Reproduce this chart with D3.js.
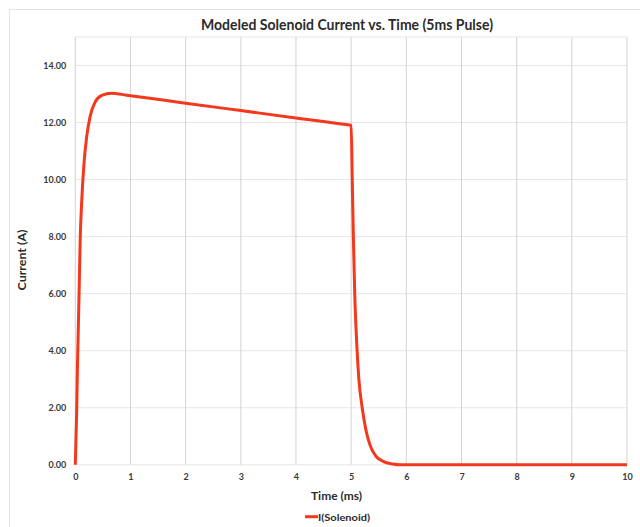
<!DOCTYPE html>
<html>
<head>
<meta charset="utf-8">
<script src="https://cdn.jsdelivr.net/npm/d3@7"></script>
<style>
  html, body { margin: 0; padding: 0; background: #fff; }
  svg { display: block; }
  text { font-family: Lato, "Open Sans", "Liberation Sans", sans-serif; font-weight: bold; }
</style>
</head>
<body>
<svg id="chart" width="640" height="527"></svg>
<script>
// Modeled solenoid current (A) over time (ms) for a 5 ms drive pulse
const timeMs = [0, 0.024, 0.04, 0.067, 0.09, 0.12, 0.157, 0.205, 0.266, 0.356, 0.48, 0.66, 0.93,
                2, 3, 4, 4.9, 5.0, 5.02, 5.04, 5.065, 5.10, 5.14, 5.20, 5.27, 5.35, 5.45, 5.58, 5.75, 5.9,
                6, 7, 8, 9, 10];
const currentA = [0, 1.78, 3.53, 5.87, 7.98, 9.38, 10.55, 11.48, 12.19, 12.71, 12.95, 13.03, 12.96,
                  12.68, 12.42, 12.16, 11.93, 11.9, 10.0, 8.0, 6.0, 4.3, 3.0, 2.0, 1.2, 0.65, 0.3, 0.12, 0.03, 0,
                  0, 0, 0, 0, 0];
const xTicks = [0, 1, 2, 3, 4, 5, 6, 7, 8, 9, 10];
const yTicks = [0, 2, 4, 6, 8, 10, 12, 14];
const seriesName = "I(Solenoid)";

const svg = d3.select("#chart");
const lineColor = "#f4381c";

// chart frame (only the top/left edges fall inside the view)
svg.append("rect")
  .attr("x", 9.5).attr("y", 9.5)
  .attr("width", 700).attr("height", 600)
  .attr("fill", "#fff").attr("stroke", "#e3e3e3").attr("stroke-width", 1);

const x = d3.scaleLinear().domain([0, 10]).range([75.3, 627]);
const y = d3.scaleLinear().domain([0, 15]).range([464.8, 37]);

// horizontal gridlines (including the top edge at 15)
const g = svg.append("g");
g.selectAll("line.hgrid")
  .data(yTicks.concat([15]))
  .join("line")
  .attr("class", "hgrid")
  .attr("x1", x(0)).attr("x2", x(10))
  .attr("y1", d => y(d)).attr("y2", d => y(d))
  .attr("stroke", "#e6e6e6").attr("stroke-width", 1);

// vertical gridlines
g.selectAll("line.vgrid")
  .data(xTicks)
  .join("line")
  .attr("class", "vgrid")
  .attr("x1", d => x(d)).attr("x2", d => x(d))
  .attr("y1", y(15)).attr("y2", y(0))
  .attr("stroke", "#d3d3d3").attr("stroke-width", 1);

// y axis labels
const yAxis = d3.axisLeft(y).tickValues(yTicks).tickFormat(d3.format(".2f")).tickSize(0).tickPadding(9);
svg.append("g")
  .attr("transform", `translate(${x(0)},0)`)
  .call(yAxis)
  .call(s => s.select(".domain").remove())
  .call(s => s.selectAll("text").attr("font-size", 9).attr("fill", "#3a3a3a")
    .style("font-family", "Lato, sans-serif").style("font-weight", "bold"));

// x axis labels
const xAxis = d3.axisBottom(x).tickValues(xTicks).tickFormat(d3.format("d")).tickSize(0).tickPadding(9);
svg.append("g")
  .attr("transform", `translate(0,${y(0)})`)
  .call(xAxis)
  .call(s => s.select(".domain").remove())
  .call(s => s.selectAll("text").attr("font-size", 9).attr("fill", "#3a3a3a")
    .style("font-family", "Lato, sans-serif").style("font-weight", "bold"));

// current trace
const pts = timeMs.map((t, i) => [t, currentA[i]]);
const line = d3.line().x(d => x(d[0])).y(d => y(d[1])).curve(d3.curveMonotoneX);
svg.append("path")
  .datum(pts)
  .attr("d", line)
  .attr("fill", "none")
  .attr("stroke", lineColor)
  .attr("stroke-width", 3)
  .attr("stroke-linejoin", "round")
  .attr("stroke-linecap", "butt");

// title
svg.append("text")
  .attr("x", 347).attr("y", 29.5)
  .attr("text-anchor", "middle")
  .attr("font-size", 14.5)
  .attr("fill", "#2b2b2b")
  .attr("textLength", 292).attr("lengthAdjust", "spacingAndGlyphs")
  .text("Modeled Solenoid Current vs. Time (5ms Pulse)");

// axis titles
svg.append("text")
  .attr("transform", "translate(26,260) rotate(-90)")
  .attr("text-anchor", "middle")
  .attr("font-size", 11)
  .attr("fill", "#2b2b2b")
  .attr("textLength", 61).attr("lengthAdjust", "spacingAndGlyphs")
  .text("Current (A)");

svg.append("text")
  .attr("x", 336.5).attr("y", 500)
  .attr("text-anchor", "middle")
  .attr("font-size", 11)
  .attr("fill", "#2b2b2b")
  .attr("textLength", 51).attr("lengthAdjust", "spacingAndGlyphs")
  .text("Time (ms)");

// legend
const legend = svg.append("g");
legend.append("line")
  .attr("x1", 305).attr("x2", 318)
  .attr("y1", 516.7).attr("y2", 516.7)
  .attr("stroke", lineColor).attr("stroke-width", 3);
legend.append("text")
  .attr("x", 318).attr("y", 520.5)
  .attr("font-size", 10)
  .attr("fill", "#2b2b2b")
  .attr("textLength", 52).attr("lengthAdjust", "spacingAndGlyphs")
  .text(seriesName);
</script>
</body>
</html>
